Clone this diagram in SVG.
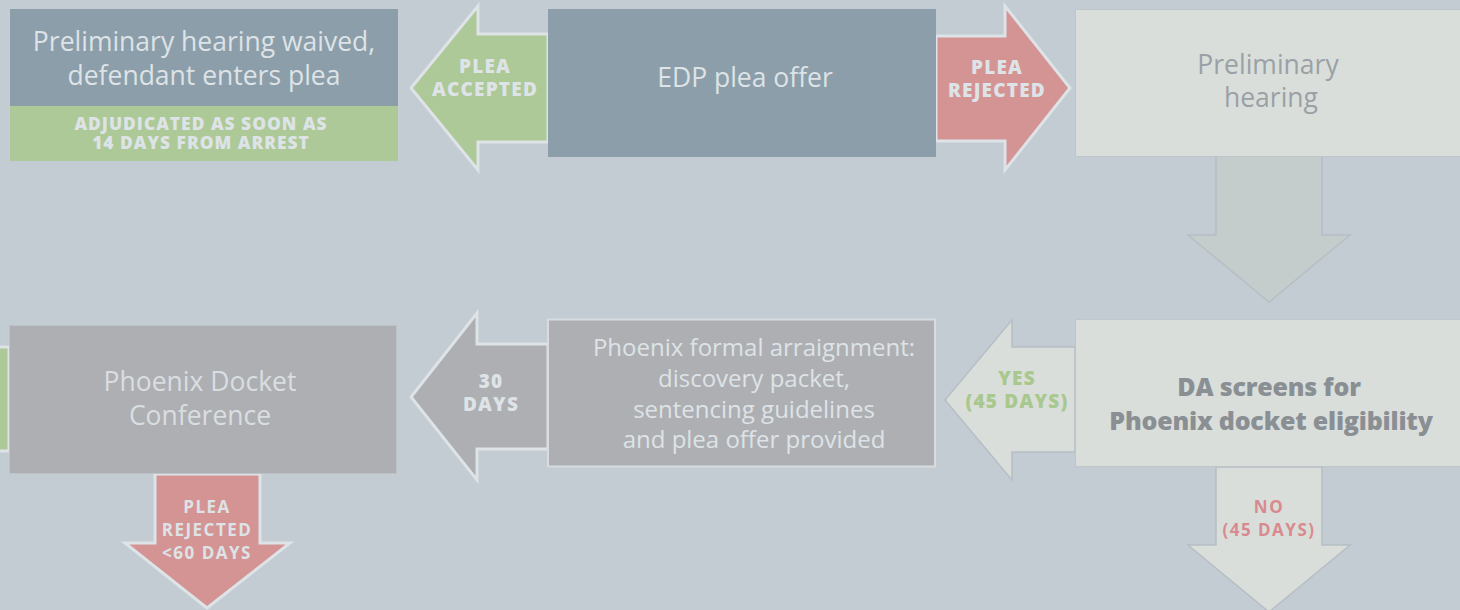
<svg xmlns="http://www.w3.org/2000/svg" width="1460" height="610" viewBox="0 0 1460 610">
  <defs>
    <style>
      .txt { font-family: "Open Sans", "Liberation Sans", sans-serif; text-anchor: middle; }
      .reg { font-weight: 500; font-size: 26.5px; }
      .lbl { font-weight: 800; font-size: 19px; letter-spacing: 1.2px; }
      .band { font-weight: 800; font-size: 17.4px; letter-spacing: 1px; }
      .down { font-weight: 700; font-size: 17px; letter-spacing: 1.5px; }
      .heavy { font-weight: 800; font-size: 25px; letter-spacing: -0.2px; fill: #8a8f94; }
      .light { fill: #dde3e6; }
      .arrow-hi { stroke: #dde3e6; stroke-width: 3; stroke-linejoin: miter; }
      .arrow-lo { stroke: #b7bfc5; stroke-width: 1.5; }
    </style>
  </defs>
  <rect width="1460" height="610" fill="#c3cbd3"/>

  <!-- connectors: block arrows -->
  <g id="connectors">
    <!-- plea accepted: EDP offer -> waived -->
    <polygon class="arrow-hi" fill="#adc998" points="548,34 478,34 478,6 411,88 478,170 478,142 548,142"/>
    <!-- plea rejected: EDP offer -> preliminary hearing -->
    <polygon class="arrow-hi" fill="#d49494" points="936,36 1005,36 1005,6 1070,88 1005,170 1005,141 936,141"/>
    <!-- preliminary hearing -> DA screening -->
    <polygon class="arrow-lo" fill="#c4cccc" points="1216,156 1322,156 1322,235 1350,235 1269,302 1188,235 1216,235"/>
    <!-- yes: DA screening -> formal arraignment -->
    <polygon class="arrow-lo" fill="#d9dedb" points="1075,347 1012,347 1012,320 945,400 1012,480 1012,452 1075,452"/>
    <!-- no: DA screening -> off page -->
    <polygon class="arrow-lo" fill="#d9dedb" points="1216,467 1322,467 1322,545 1350,545 1269,612 1188,545 1216,545"/>
    <!-- 30 days: formal arraignment -> docket conference -->
    <polygon class="arrow-hi" fill="#aeafb3" points="548,344 477,344 477,313 411,397 477,480 477,449 548,449"/>
    <!-- plea rejected < 60 days: docket conference -> off page -->
    <polygon class="arrow-hi" fill="#d49494" points="155,474 260,474 260,543 290,543 207,608 125,543 155,543"/>
    <!-- incoming arrow at the left edge -->
    <polygon class="arrow-hi" fill="#adc998" points="-10,347 9,347 9,451 -10,451"/>

    <text class="txt lbl light" x="485" y="73">PLEA</text>
    <text class="txt lbl light" x="485" y="96">ACCEPTED</text>
    <text class="txt lbl light" x="997" y="74">PLEA</text>
    <text class="txt lbl light" x="997" y="97">REJECTED</text>
    <text class="txt lbl" fill="#a8c88d" x="1017" y="385">YES</text>
    <text class="txt lbl" fill="#a8c88d" x="1017" y="408">(45 DAYS)</text>
    <text class="txt down" fill="#d98a8e" x="1269" y="513">NO</text>
    <text class="txt down" fill="#d98a8e" x="1269" y="536">(45 DAYS)</text>
    <text class="txt lbl light" font-size="18" x="491" y="388">30</text>
    <text class="txt lbl light" font-size="18" x="491" y="411">DAYS</text>
    <text class="txt down light" x="207" y="513">PLEA</text>
    <text class="txt down light" x="207" y="536">REJECTED</text>
    <text class="txt down light" x="207" y="559">&lt;60 DAYS</text>
  </g>

  <!-- preliminary hearing waived -->
  <g id="waived">
    <rect x="10" y="9" width="388" height="97" fill="#8c9eaa"/>
    <rect x="10" y="106" width="388" height="55" fill="#adc998"/>
    <text class="txt reg light" x="204" y="51">Preliminary hearing waived,</text>
    <text class="txt reg light" x="204" y="85">defendant enters plea</text>
    <text class="txt band light" x="201" y="130">ADJUDICATED AS SOON AS</text>
    <text class="txt band light" x="201" y="149">14 DAYS FROM ARREST</text>
  </g>

  <!-- EDP plea offer -->
  <g id="edp-offer">
    <rect x="548" y="9" width="388" height="148" fill="#8c9eaa"/>
    <text class="txt reg light" x="745" y="87">EDP plea offer</text>
  </g>

  <!-- preliminary hearing -->
  <g id="prelim-hearing">
    <rect x="1075.5" y="9.5" width="400" height="147" fill="#d9dedb" stroke="#bfc5ca" stroke-width="1"/>
    <text class="txt reg" fill="#9aa1a6" x="1268" y="74">Preliminary</text>
    <text class="txt reg" fill="#9aa1a6" x="1271" y="107">hearing</text>
  </g>

  <!-- DA screening -->
  <g id="da-screen">
    <rect x="1075.5" y="319.5" width="400" height="147" fill="#d9dedb" stroke="#bfc5ca" stroke-width="1"/>
    <text class="txt heavy" x="1269" y="396">DA screens for</text>
    <text class="txt heavy" x="1271" y="430">Phoenix docket eligibility</text>
  </g>

  <!-- Phoenix formal arraignment -->
  <g id="formal-arraignment">
    <rect x="548" y="319.5" width="387" height="147" fill="#aeafb3" stroke="#d6dcdf" stroke-width="2"/>
    <text class="txt light" font-weight="500" font-size="24" x="754" y="356">Phoenix formal arraignment:</text>
    <text class="txt light" font-weight="500" font-size="24" x="754" y="387">discovery packet,</text>
    <text class="txt light" font-weight="500" font-size="24" x="754" y="418">sentencing guidelines</text>
    <text class="txt light" font-weight="500" font-size="24" x="754" y="448">and plea offer provided</text>
  </g>

  <!-- Phoenix docket conference -->
  <g id="docket-conference">
    <rect x="9.5" y="325.5" width="387" height="148" fill="#aeafb3" stroke="#bdc2c7" stroke-width="1"/>
    <text class="txt reg" fill="#d9dee1" x="200" y="391">Phoenix Docket</text>
    <text class="txt reg" fill="#d9dee1" x="200" y="425">Conference</text>
  </g>
</svg>
